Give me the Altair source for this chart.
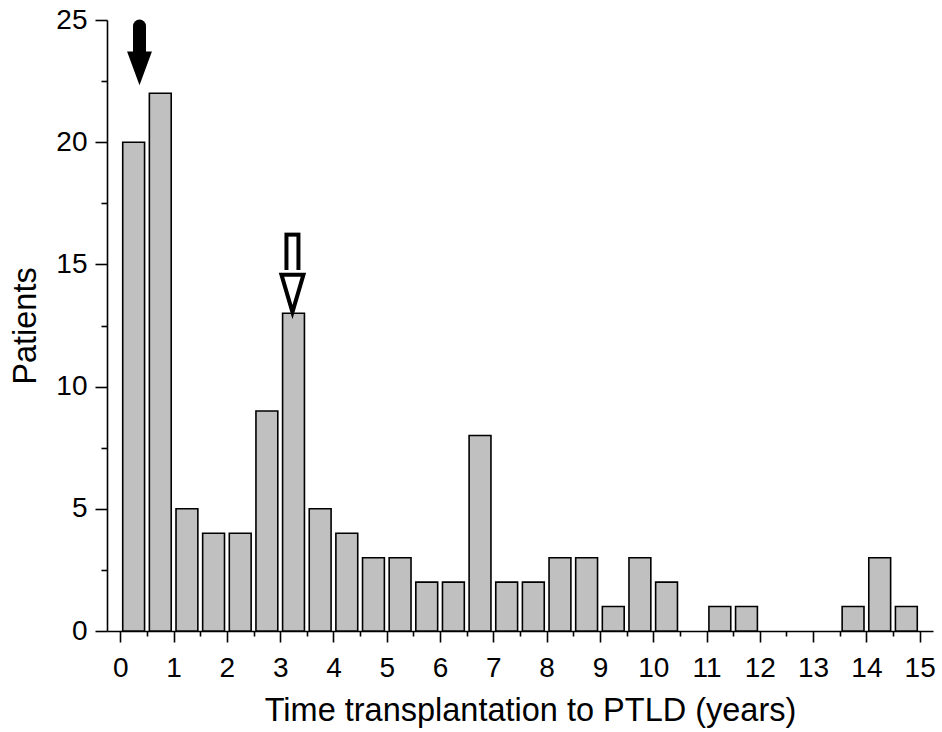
import altair as alt
import pandas as pd

# Histogram bins (years since transplantation, 0.5-year bins) and patient counts
bin_start = [0.0, 0.5, 1.0, 1.5, 2.0, 2.5, 3.0, 3.5, 4.0, 4.5,
             5.0, 5.5, 6.0, 6.5, 7.0, 7.5, 8.0, 8.5, 9.0, 9.5,
             10.0, 10.5, 11.0, 11.5, 12.0, 12.5, 13.0, 13.5, 14.0, 14.5]
patients = [20, 22, 5, 4, 4, 9, 13, 5, 4, 3,
            3, 2, 2, 8, 2, 2, 3, 3, 1, 3,
            2, 0, 1, 1, 0, 0, 0, 1, 3, 1]

# Arrow annotations (in data units)
arrow_name = ["early", "late"]
arrow_x = [0.36, 3.23]
arrow_top = [25.0, 16.3]
arrow_base = [23.7, 14.77]
arrow_tip = [22.45, 13.05]

x_ticks = list(range(0, 16))
x_minor = [0.5, 1.5, 2.5, 3.5, 4.5, 5.5, 6.5, 7.5, 8.5, 9.5, 10.5, 11.5, 12.5, 13.5, 14.5]
y_ticks = [0, 5, 10, 15, 20, 25]
y_minor = [2.5, 7.5, 12.5, 17.5, 22.5]

df = pd.DataFrame({"start": bin_start, "count": patients})
arrows = pd.DataFrame({"name": arrow_name, "x": arrow_x, "top": arrow_top,
                       "base": arrow_base, "tip": arrow_tip})

FONT = "Liberation Sans"
xscale = alt.Scale(domain=[-0.25, 15.25], nice=False, zero=False)
yscale = alt.Scale(domain=[0, 25], nice=False)

base = alt.Chart(df).transform_filter("datum.count > 0").transform_calculate(
    x0="datum.start + 0.045", x1="datum.start + 0.455"
)

major_x = alt.Axis(values=x_ticks, format="d", orient="bottom", tickSize=11,
                   tickWidth=1.6, domainWidth=1.6, domainColor="black", tickColor="black",
                   labelFont=FONT, labelFontSize=28, labelColor="black", labelPadding=12,
                   title="Time transplantation to PTLD (years)", titleFont=FONT,
                   titleFontSize=32.5, titleFontWeight="normal", titleColor="black",
                   titleBaseline="alphabetic", titleY=89, titleX=423, grid=False)
major_y = alt.Axis(values=y_ticks, format="d", orient="left", tickSize=12,
                   tickWidth=1.6, domainWidth=1.6, domainColor="black", tickColor="black",
                   labelFont=FONT, labelFontSize=28, labelColor="black", labelPadding=8,
                   title="Patients", titleFont=FONT, titleFontSize=32.5,
                   titleFontWeight="normal", titleColor="black",
                   titleBaseline="alphabetic", titleX=-72, grid=False)
minor_x = alt.Axis(values=x_minor, orient="bottom", tickSize=5, tickWidth=1.6,
                   tickColor="black", labels=False, domain=False, title=None, grid=False)
minor_y = alt.Axis(values=y_minor, orient="left", tickSize=6, tickWidth=1.6,
                   tickColor="black", labels=False, domain=False, title=None, grid=False)

minor = base.mark_bar(opacity=0).encode(
    x=alt.X("x0:Q", scale=xscale, axis=minor_x),
    x2="x1:Q",
    y=alt.Y("count:Q", scale=yscale, axis=minor_y),
    y2=alt.datum(0),
)

bars = base.mark_bar(fill="#c0c0c0", stroke="black", strokeWidth=1.6).encode(
    x=alt.X("x0:Q", scale=xscale, axis=major_x),
    x2="x1:Q",
    y=alt.Y("count:Q", scale=yscale, axis=major_y),
    y2=alt.datum(0),
)

abase = alt.Chart(arrows)

# Early arrow: solid black shaft + black head
a1 = abase.transform_filter("datum.name == 'early'")
shaft1 = a1.mark_rule(color="black", strokeWidth=13, strokeCap="round", yOffset=6).encode(
    x=alt.X("x:Q", scale=xscale, axis=None),
    y=alt.Y("top:Q", scale=yscale, axis=None),
    y2="base:Q",
)
head1 = a1.mark_point(shape="M -1 -2.7 L 1 -2.7 L 0 0 Z", size=484, filled=True,
                      fill="black", stroke="black", strokeWidth=2, opacity=1).encode(
    x=alt.X("x:Q", scale=xscale, axis=None),
    y=alt.Y("tip:Q", scale=yscale, axis=None),
)

# Late arrow: hollow shaft + hollow head
a2 = abase.transform_filter("datum.name == 'late'")
shaft2_out = a2.mark_rule(color="black", strokeWidth=16, strokeCap="butt").encode(
    x=alt.X("x:Q", scale=xscale, axis=None),
    y=alt.Y("top:Q", scale=yscale, axis=None),
    y2="base:Q",
)
shaft2_in = a2.mark_rule(color="white", strokeWidth=8, strokeCap="butt", yOffset=4).encode(
    x=alt.X("x:Q", scale=xscale, axis=None),
    y=alt.Y("top:Q", scale=yscale, axis=None),
    y2="base:Q",
)
head2 = a2.mark_point(shape="M -1 -3.4 L 1 -3.4 L 0 0 Z", size=484, filled=True,
                      fill="white", stroke="black", strokeWidth=4, opacity=1,
                      strokeJoin="miter").encode(
    x=alt.X("x:Q", scale=xscale, axis=None),
    y=alt.Y("tip:Q", scale=yscale, axis=None),
)

chart = alt.layer(minor, bars, shaft1, head1, shaft2_out, shaft2_in, head2).resolve_axis(
    x="independent", y="independent"
).properties(
    width=826, height=611, autosize="none",
    padding={"left": 107, "top": 20, "right": 9, "bottom": 101},
    background="white",
).configure_view(stroke=None)

chart.save("out.html", embed_options={"renderer": "svg", "actions": False})
